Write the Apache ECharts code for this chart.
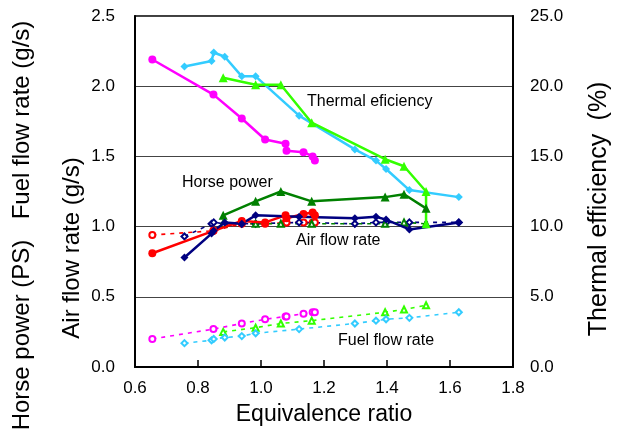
<!DOCTYPE html>
<html>
<head>
<meta charset="utf-8">
<script src="https://cdn.jsdelivr.net/npm/echarts@6/dist/echarts.min.js"></script>
<style>
  html, body { margin: 0; padding: 0; background: #fff; }
  #chart { width: 621px; height: 432px; }
</style>
</head>
<body>
<div id="chart"></div>
<script>
// Fuel A (magenta / red, circles)
const eqA = [0.655, 0.849, 0.939, 1.013, 1.078, 1.081, 1.135, 1.164, 1.171];
const thermalA = [21.9, 19.4, 17.7, 16.2, 15.9, 15.4, 15.3, 15.0, 14.7];
const powerA = [0.81, 0.97, 1.04, 1.03, 1.08, 1.06, 1.09, 1.10, 1.08];
const airA = [0.94, 0.97, 1.02, 1.02, 1.03, 1.03, 1.03, 1.03, 1.03];
const fuelA = [0.20, 0.27, 0.31, 0.34, 0.36, 0.36, 0.38, 0.39, 0.39];

// Fuel B (green, triangles)
const eqB = [0.880, 0.983, 1.063, 1.161, 1.394, 1.454, 1.524];
const eqBThermal = [0.880, 0.983, 1.063, 1.161, 1.394, 1.454, 1.524, 1.524];
const thermalB = [20.6, 20.1, 20.1, 17.4, 14.8, 14.3, 12.5, 10.2];
const powerB = [1.08, 1.18, 1.25, 1.18, 1.21, 1.23, 1.13];
const airB = [1.02, 1.02, 1.02, 1.02, 1.02, 1.03, 1.02];
const fuelB = [0.25, 0.28, 0.31, 0.33, 0.39, 0.41, 0.44];

// Fuel C (cyan / navy, diamonds)
const eqC = [0.757, 0.843, 0.850, 0.885, 0.939, 0.983, 1.121, 1.298, 1.365, 1.397, 1.471, 1.628];
const thermalC = [21.4, 21.8, 22.4, 22.1, 20.7, 20.7, 17.9, 15.5, 14.7, 14.1, 12.6, 12.1];
const powerC = [0.78, 0.95, 0.97, 1.03, 1.02, 1.08, 1.07, 1.06, 1.07, 1.05, 0.98, 1.03];
const airC = [0.93, 1.02, 1.03, 1.02, 1.02, 1.02, 1.03, 1.02, 1.03, 1.03, 1.03, 1.03];
const fuelC = [0.17, 0.19, 0.20, 0.21, 0.22, 0.24, 0.27, 0.31, 0.33, 0.34, 0.35, 0.39];

const FONT = "'Liberation Sans', Arial, sans-serif";

function pairs(xs, ys) {
    return xs.map((x, i) => [x, ys[i]]);
}

function solid(name, xs, ys, color, symbol, axis) {
    return {
        name: name, type: 'line', yAxisIndex: axis || 0,
        data: pairs(xs, ys),
        symbol: symbol, symbolSize: symbol === 'triangle' ? 9 : 8,
        lineStyle: { color: color, width: 2.5 },
        itemStyle: { color: color },
        z: 3
    };
}

function dashed(name, xs, ys, color, symbol) {
    return {
        name: name, type: 'line',
        data: pairs(xs, ys),
        symbol: symbol, symbolSize: 6,
        lineStyle: { color: color, width: 1.6, type: [4, 5] },
        itemStyle: { color: color, borderWidth: 1.2 },
        z: 2
    };
}

const chart = echarts.init(document.getElementById('chart'));

const option = {
    animation: false,
    backgroundColor: '#fff',
    textStyle: { fontFamily: FONT },
    grid: {
        left: 135, right: 108, top: 16, bottom: 65,
        show: true, borderColor: '#000', borderWidth: 1.5
    },
    xAxis: {
        type: 'value', min: 0.6, max: 1.8, interval: 0.2,
        name: 'Equivalence ratio', nameLocation: 'middle', nameGap: 36,
        nameTextStyle: { fontSize: 23, color: '#000', fontFamily: FONT },
        axisLine: { show: true, onZero: false, lineStyle: { color: '#000', width: 2 } },
        axisTick: { show: true, inside: true, length: 7, lineStyle: { color: '#000', width: 1.5 } },
        axisLabel: {
            fontSize: 17, color: '#000', margin: 13, fontFamily: FONT,
            formatter: v => v.toFixed(1)
        },
        splitLine: { show: false }
    },
    yAxis: [
        {
            type: 'value', min: 0, max: 2.5, interval: 0.5,
            axisLine: { show: true, lineStyle: { color: '#000', width: 2 } },
            axisTick: { show: false },
            axisLabel: {
                fontSize: 17, color: '#000', margin: 20, fontFamily: FONT,
                formatter: v => v.toFixed(1)
            },
            splitLine: { show: true, lineStyle: { color: '#444', width: 1 } }
        },
        {
            type: 'value', min: 0, max: 25, interval: 5, position: 'right',
            axisLine: { show: true, lineStyle: { color: '#000', width: 2 } },
            axisTick: { show: false },
            axisLabel: {
                fontSize: 17, color: '#000', margin: 17, fontFamily: FONT,
                formatter: v => v.toFixed(1)
            },
            splitLine: { show: false }
        }
    ],
    series: [
        dashed('Air flow A', eqA, airA, '#ff0000', 'emptyCircle'),
        dashed('Air flow C', eqC, airC, '#000080', 'emptyDiamond'),
        dashed('Air flow B', eqB, airB, '#008000', 'emptyTriangle'),
        dashed('Fuel flow A', eqA, fuelA, '#ff00ff', 'emptyCircle'),
        dashed('Fuel flow B', eqB, fuelB, '#33ff00', 'emptyTriangle'),
        dashed('Fuel flow C', eqC, fuelC, '#33ccff', 'emptyDiamond'),
        solid('Horse power A', eqA, powerA, '#ff0000', 'circle'),
        solid('Horse power B', eqB, powerB, '#008000', 'triangle'),
        solid('Horse power C', eqC, powerC, '#000080', 'diamond'),
        solid('Thermal A', eqA, thermalA, '#ff00ff', 'circle', 1),
        solid('Thermal C', eqC, thermalC, '#33ccff', 'diamond', 1),
        solid('Thermal B', eqBThermal, thermalB, '#33ff00', 'triangle', 1)
    ],
    graphic: [
        // axis titles
        { type: 'text', x: 22, y: 120, rotation: Math.PI / 2,
          style: { text: 'Fuel flow rate (g/s)', font: '24px ' + FONT, fill: '#000', align: 'center', verticalAlign: 'middle' } },
        { type: 'text', x: 22, y: 335, rotation: Math.PI / 2,
          style: { text: 'Horse power (PS)', font: '24px ' + FONT, fill: '#000', align: 'center', verticalAlign: 'middle' } },
        { type: 'text', x: 72, y: 248, rotation: Math.PI / 2,
          style: { text: 'Air flow rate (g/s)', font: '24px ' + FONT, fill: '#000', align: 'center', verticalAlign: 'middle' } },
        { type: 'text', x: 599, y: 235, rotation: Math.PI / 2,
          style: { text: 'Thermal efficiency', font: '25px ' + FONT, fill: '#000', align: 'center', verticalAlign: 'middle' } },
        { type: 'text', x: 599, y: 101, rotation: Math.PI / 2,
          style: { text: '(%)', font: '25px ' + FONT, fill: '#000', align: 'center', verticalAlign: 'middle' } },
        // labels inside the plot
        { type: 'text', x: 307, y: 102,
          style: { text: 'Thermal eficiency', font: '16px ' + FONT, fill: '#000', verticalAlign: 'middle' } },
        { type: 'text', x: 182, y: 183,
          style: { text: 'Horse power', font: '16px ' + FONT, fill: '#000', verticalAlign: 'middle' } },
        { type: 'text', x: 296, y: 241,
          style: { text: 'Air flow rate', font: '16px ' + FONT, fill: '#000', verticalAlign: 'middle' } },
        { type: 'text', x: 338, y: 341,
          style: { text: 'Fuel flow rate', font: '16px ' + FONT, fill: '#000', verticalAlign: 'middle' } }
    ]
};

chart.setOption(option);

window.addEventListener('resize', function() {
    chart.resize();
});
</script>
</body>
</html>
